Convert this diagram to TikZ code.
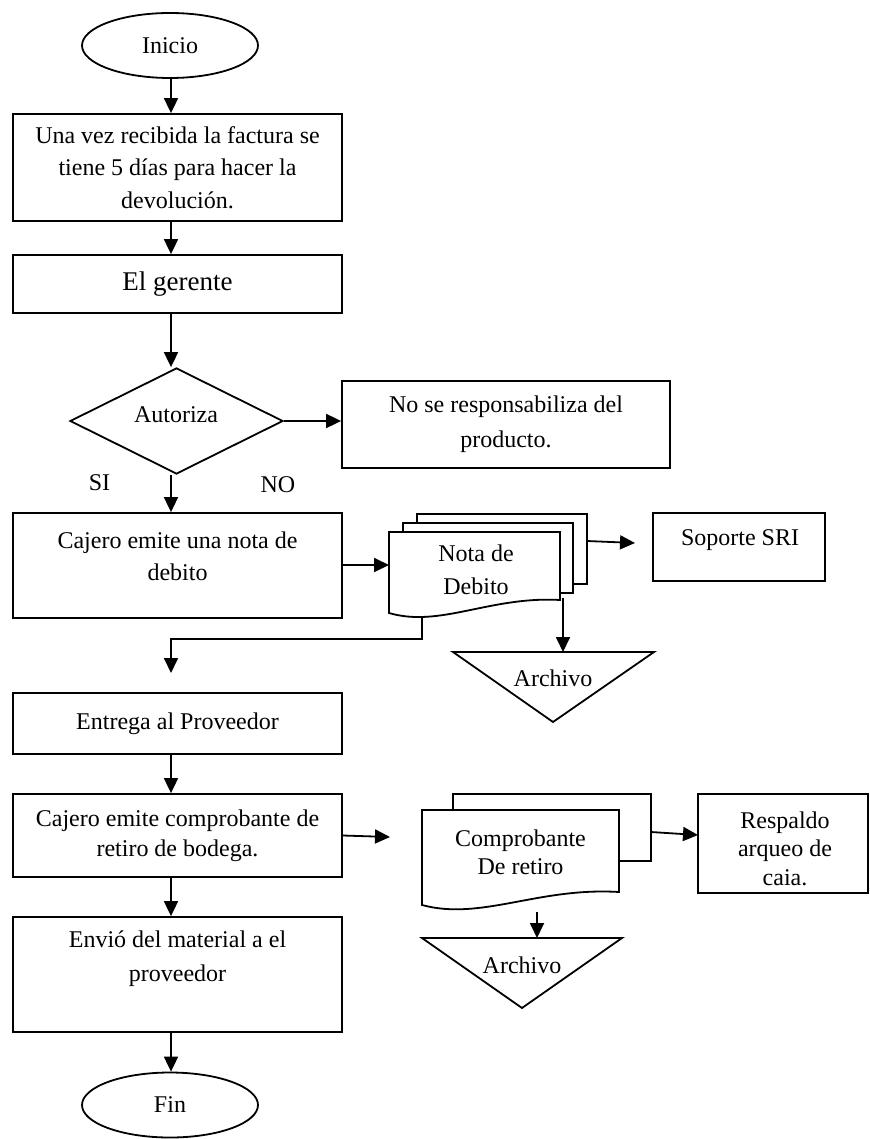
\documentclass[tikz,border=0pt]{standalone}
\usepackage{fontspec}
\setmainfont{Liberation Serif}
\usetikzlibrary{shapes.geometric,arrows.meta}
\begin{document}
\begin{tikzpicture}[x=1pt,y=-1pt,
  every node/.style={font=\fontsize{24}{32}\selectfont},
  lw/.style={line width=1.8pt},
  box/.style={draw,lw,rectangle,inner sep=0pt,align=center},
  term/.style={draw,lw,ellipse,inner sep=0pt,minimum width=176pt,minimum height=65pt},
  arr/.style={lw,-{Triangle[length=15pt,width=14pt]}},
  docshape/.style={draw,lw,fill=white},
  txt/.style={align=center,inner sep=0pt},
]
\useasboundingbox (0,0) rectangle (869,1139);
\coordinate (col) at (171,0);

% main column
\node[term] (inicio) at (170,45.5) {Inicio};
\node[box,minimum width=329pt,minimum height=107pt,font=\fontsize{24}{32.5}\selectfont] (b1) at (177.5,167.5)
  {Una vez recibida la factura se\\tiene 5 días para hacer la\\devolución.};
\node[box,minimum width=329pt,minimum height=58pt,font=\fontsize{27}{32}\selectfont] (b2) at (177.5,284) {El gerente};
\node[draw,lw,diamond,minimum width=213pt,minimum height=106pt,inner sep=0pt] (dia) at (176.5,421) {};
\node[txt] (diat) at (176,415) {Autoriza};
\node[box,minimum width=328pt,minimum height=87pt,font=\fontsize{24}{35}\selectfont] (no) at (506,424.5)
  {No se responsabiliza del\\producto.};
\node[txt] (si) at (99.5,483) {SI};
\node[txt] (nolbl) at (278,485) {NO};
\node[box,minimum width=329pt,minimum height=105pt] (b3) at (177.5,565.5) {};
\node[txt] (b3t) at (177.5,556) {Cajero emite una nota de\\debito};
\node[box,minimum width=329pt,minimum height=61pt] (b4) at (177.5,723.5) {Entrega al Proveedor};
\node[box,minimum width=329pt,minimum height=83pt,font=\fontsize{24}{30}\selectfont] (b5) at (177.5,835.5)
  {Cajero emite comprobante de\\retiro de bodega.};
\node[box,minimum width=329pt,minimum height=115pt] (b6) at (177.5,974.5) {};
\node[txt,font=\fontsize{24}{34}\selectfont] (b6t) at (177.5,959) {Envió del material a el\\proveedor};
\node[term] (fin) at (170,1105) {Fin};

% Nota de Debito stack
\draw[docshape] (417,514) rectangle (587,584);
\draw[docshape] (403,523) rectangle (573,593);
\draw[docshape] (389,532) -- (560,532) -- (560,600) .. controls (490,596) and (440,628) .. (389,613) -- cycle;
\node[txt,font=\fontsize{24}{33}\selectfont] (nd) at (476,569.5) {Nota de\\Debito};
\coordinate (ndin) at (389,565);
\coordinate (ndr) at (587,541);
\coordinate (ndd) at (563,598);
\coordinate (ndb) at (422,617);
\coordinate (elbow) at (422,639);

% Soporte SRI
\node[box,minimum width=172pt,minimum height=68pt] (sri) at (739,547) {};
\node[txt] (srit) at (740,540) {Soporte SRI};
\coordinate (sriin) at (635,543);

% Archivo 1
\draw[lw] (453,652) -- (654,652) -- (553,722) -- cycle;
\node[txt] (arch1) at (553,678) {Archivo};
\coordinate (a1top) at (563,652);

% Comprobante stack
\draw[docshape] (453,794) rectangle (651,861);
\draw[docshape] (422,810) -- (619,810) -- (619,892) .. controls (538,887) and (481,921) .. (422,905) -- cycle;
\node[txt,font=\fontsize{24}{28}\selectfont] (cd) at (520.5,852) {Comprobante\\De retiro};
\coordinate (cdin) at (390,837);
\coordinate (cdr) at (651,832);
\coordinate (cdb) at (537,912);

% Respaldo
\node[box,minimum width=170pt,minimum height=99pt] (resp) at (783,843.5) {};
\node[txt,font=\fontsize{24}{28.5}\selectfont] (respt) at (785,848.5) {Respaldo\\arqueo de\\caia.};
\coordinate (respin) at (698,835);

% Archivo 2
\draw[lw] (422,938) -- (622,938) -- (522,1008) -- cycle;
\node[txt] (arch2) at (522,965) {Archivo};
\coordinate (a2top) at (537,938);

% connectors
\coordinate (b4in) at (171,673);
\draw[arr] (col |- inicio.south) -- (col |- b1.north);
\draw[arr] (col |- b1.south) -- (col |- b2.north);
\draw[arr] (col |- b2.south) -- (col |- dia.north);
\draw[arr] (dia.east) -- (no.west |- dia.east);
\draw[arr] (col |- dia.south) -- (col |- b3.north);
\draw[arr] (b3.east |- ndin) -- (ndin);
\draw[arr] (ndr) -- (sriin);
\draw[arr] (ndd) -- (a1top);
\draw[arr] (ndb) -- (elbow) -| (b4in);
\draw[arr] (col |- b4.south) -- (col |- b5.north);
\draw[arr] (b5.east) -- (cdin);
\draw[arr] (cdr) -- (respin);
\draw[arr] (cdb) -- (a2top);
\draw[arr] (col |- b5.south) -- (col |- b6.north);
\draw[arr] (col |- b6.south) -- (col |- fin.north);
\end{tikzpicture}
\end{document}
